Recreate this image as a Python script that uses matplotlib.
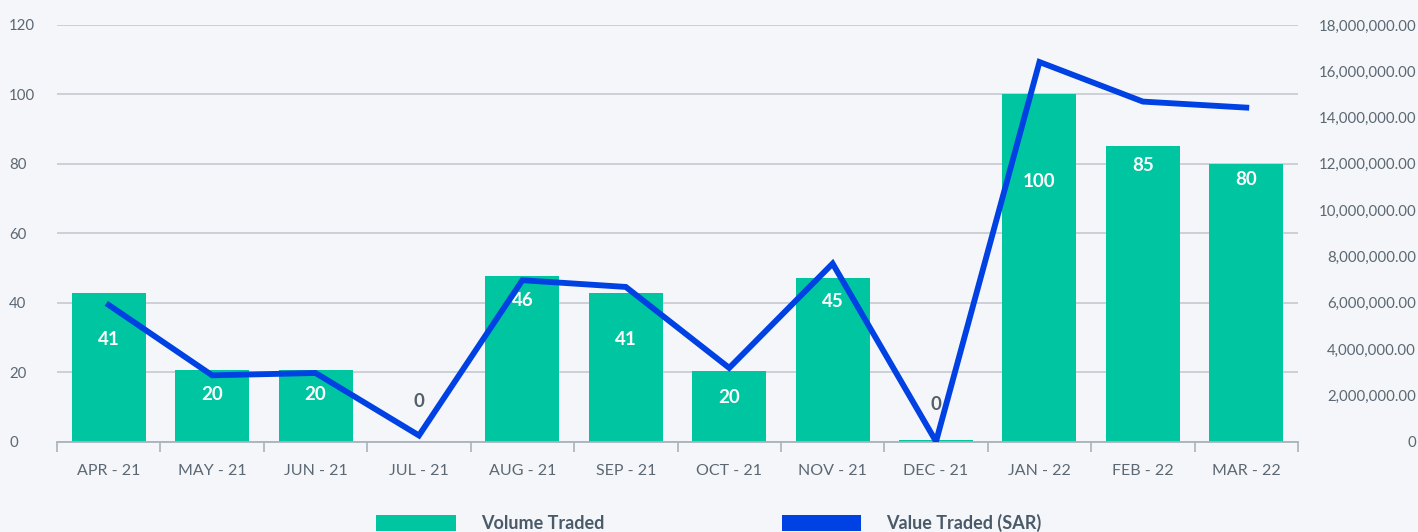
import matplotlib.pyplot as plt
from matplotlib.patches import Patch
from matplotlib.ticker import FuncFormatter, MultipleLocator
import numpy as np

plt.rcParams['font.family'] = ['Lato', 'DejaVu Sans']

# Data
months = ['APR - 21', 'MAY - 21', 'JUN - 21', 'JUL - 21', 'AUG - 21', 'SEP - 21',
          'OCT - 21', 'NOV - 21', 'DEC - 21', 'JAN - 22', 'FEB - 22', 'MAR - 22']
volume = [42.8, 20.5, 20.5, 0, 47.6, 42.8, 20.3, 47.2, 0.35, 100, 85, 80]
volume_labels = ['41', '20', '20', '0', '46', '41', '20', '45', '0', '100', '85', '80']
value_sar = [5.9e6, 2.86e6, 2.96e6, 0.26e6, 6.97e6, 6.68e6, 3.18e6, 7.69e6,
             0.0, 16.4e6, 14.69e6, 14.43e6]

# label heights (in volume units) as placed in the original
label_y = [29.3, 13.4, 13.4, 11.4, 40.5, 29.3, 12.8, 40.2, 10.8, 74.8, 79.5, 75.4]

bg = '#F4F6F9'
green = '#00C5A1'
blue = '#0041E3'
text_c = '#5B6873'
grid_c = '#C9CED4'

fig = plt.figure(figsize=(14.18, 5.32), dpi=100, facecolor=bg)
ax = fig.add_axes([57 / 1418, 1 - 441.5 / 532, (1298 - 57) / 1418, (441.5 - 25) / 532])
ax.set_facecolor(bg)
x = np.arange(len(months))

ax.bar(x, volume, width=0.716, color=green, zorder=2)
for xi, yi, lab, v in zip(x, label_y, volume_labels, volume):
    col = 'white' if v > 1 else '#555F66'
    ax.text(xi, yi, lab, ha='center', va='center', color=col, fontsize=13.5,
            fontweight='bold', zorder=5)

ax.set_xlim(-0.5, 11.5)
ax.set_ylim(0, 120)
ax.yaxis.set_major_locator(MultipleLocator(20))
ax.grid(axis='y', color=grid_c, linewidth=1.3, zorder=0)
ax.set_axisbelow(True)
for s in ['top', 'right', 'left']:
    ax.spines[s].set_visible(False)
ax.spines['bottom'].set_color('#A9B3BD')
ax.spines['bottom'].set_linewidth(1.3)

ax.set_xticks(x)
ax.set_xticklabels(months)
ax.set_xticks(np.arange(-0.5, 12, 1), minor=True)
ax.tick_params(axis='x', which='major', length=0, pad=16, labelsize=11.5, labelcolor=text_c)
ax.tick_params(axis='x', which='minor', length=7, color='#A9B3BD', width=1.2)
ax.tick_params(axis='y', length=0, pad=34.5, labelsize=10.8, labelcolor=text_c)
for t in ax.get_yticklabels():
    t.set_horizontalalignment('left')

ax2 = ax.twinx()
ax2.plot(x, value_sar, color=blue, linewidth=4.2, zorder=4, solid_joinstyle='miter')
ax2.set_ylim(0, 18e6)
ax2.yaxis.set_major_locator(MultipleLocator(2e6))
ax2.yaxis.set_major_formatter(FuncFormatter(lambda v, p: '0' if v == 0 else f'{v:,.2f}'))
ax2.tick_params(axis='y', length=0, pad=85, labelsize=10.8, labelcolor=text_c)
for t in ax2.get_yticklabels():
    t.set_horizontalalignment('right')
for s in ax2.spines.values():
    s.set_visible(False)

handles = [Patch(facecolor=green, label='Volume Traded'),
           Patch(facecolor=blue, label='Value Traded (SAR)')]
leg = fig.legend(handles=handles, loc='upper center', ncol=2, frameon=False,
                 bbox_to_anchor=(0.5, 0.064), handlelength=4.4, handleheight=1.0,
                 handletextpad=1.4, columnspacing=9.8,
                 prop={'size': 13, 'weight': 'bold'})
for t in leg.get_texts():
    t.set_color('#4A5A68')

fig.savefig('out.png', dpi=100, facecolor=bg)
